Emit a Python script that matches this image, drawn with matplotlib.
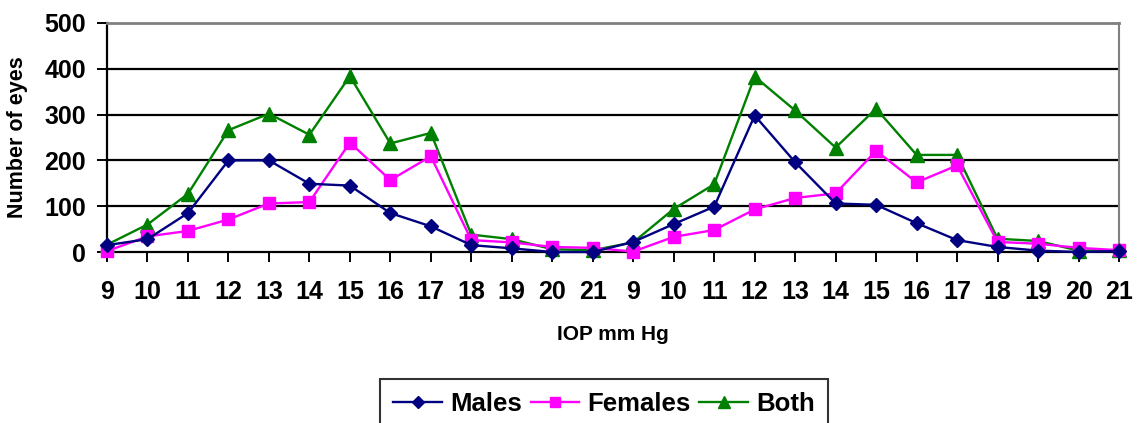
import matplotlib.pyplot as plt

plt.rcParams['font.family'] = ['Liberation Sans', 'DejaVu Sans']

# two runs of IOP values 9..21
iop_labels = [str(v) for v in range(9, 22)] * 2

males = [15, 28, 85, 200, 200, 149, 145, 85, 56, 15, 8, 0, 0,
         22, 61, 99, 298, 196, 106, 103, 63, 26, 11, 3, 0, 2]
females = [2, 34, 46, 71, 106, 109, 239, 157, 209, 26, 21, 11, 9,
           1, 33, 48, 93, 118, 128, 221, 152, 189, 22, 18, 9, 4]
both = [16, 60, 127, 266, 302, 256, 384, 237, 260, 38, 28, 6, 4,
        21, 94, 148, 383, 309, 228, 313, 212, 212, 29, 24, 3, 4]

x = list(range(len(iop_labels)))

fig = plt.figure(figsize=(11.38, 4.23), dpi=100)
ax = fig.add_axes([107 / 1138, 1 - 252 / 423, 1012 / 1138, 229 / 423])

ax.plot(x, males, color='#000080', marker='D', markersize=7, lw=1.7,
        label='Males', clip_on=False, zorder=5)
ax.plot(x, females, color='#FF00FF', marker='s', markersize=8, lw=1.7,
        label='Females', clip_on=False, zorder=4)
ax.plot(x, both, color='#008000', marker='^', markersize=10, lw=1.7,
        label='Both', clip_on=False, zorder=3)

ax.set_xlim(0, len(x) - 1)
ax.set_ylim(0, 500)
ax.set_yticks([0, 100, 200, 300, 400, 500])
ax.set_xticks(x)
ax.set_xticklabels(iop_labels)

for y in [100, 200, 300, 400]:
    ax.axhline(y, color='black', lw=1.6, zorder=1)

ax.spines['top'].set_color('#808080')
ax.spines['right'].set_color('#808080')
ax.spines['top'].set_linewidth(2)
ax.spines['right'].set_linewidth(1.5)
ax.spines['left'].set_linewidth(1.6)
ax.spines['bottom'].set_linewidth(1.6)

ax.tick_params(axis='x', direction='out', length=7, width=1.4, pad=13,
               labelsize=18)
ax.tick_params(axis='y', direction='out', length=7, width=1.4, pad=8,
               labelsize=18)
for lbl in ax.get_xticklabels() + ax.get_yticklabels():
    lbl.set_fontweight('bold')

ax.set_ylabel('Number of eyes', fontsize=15.5, fontweight='bold')
ax.yaxis.set_label_coords(-0.078, 0.5)
ax.set_xlabel('IOP mm Hg', fontsize=15, fontweight='bold')
ax.xaxis.set_label_coords(0.5, -0.32)

leg = fig.legend(loc='upper center', bbox_to_anchor=(604 / 1138, 1 - 379 / 423),
                 ncol=3, fancybox=False, frameon=True, edgecolor='black',
                 prop={'size': 18.5, 'weight': 'bold'}, handlelength=1.9,
                 handletextpad=0.3, columnspacing=0.35, borderpad=0.5,
                 borderaxespad=0)
leg.get_frame().set_linewidth(1.5)
for h in leg.legend_handles:
    h.set_markersize(h.get_markersize() * 0.85)

fig.savefig('out.png', dpi=100)
